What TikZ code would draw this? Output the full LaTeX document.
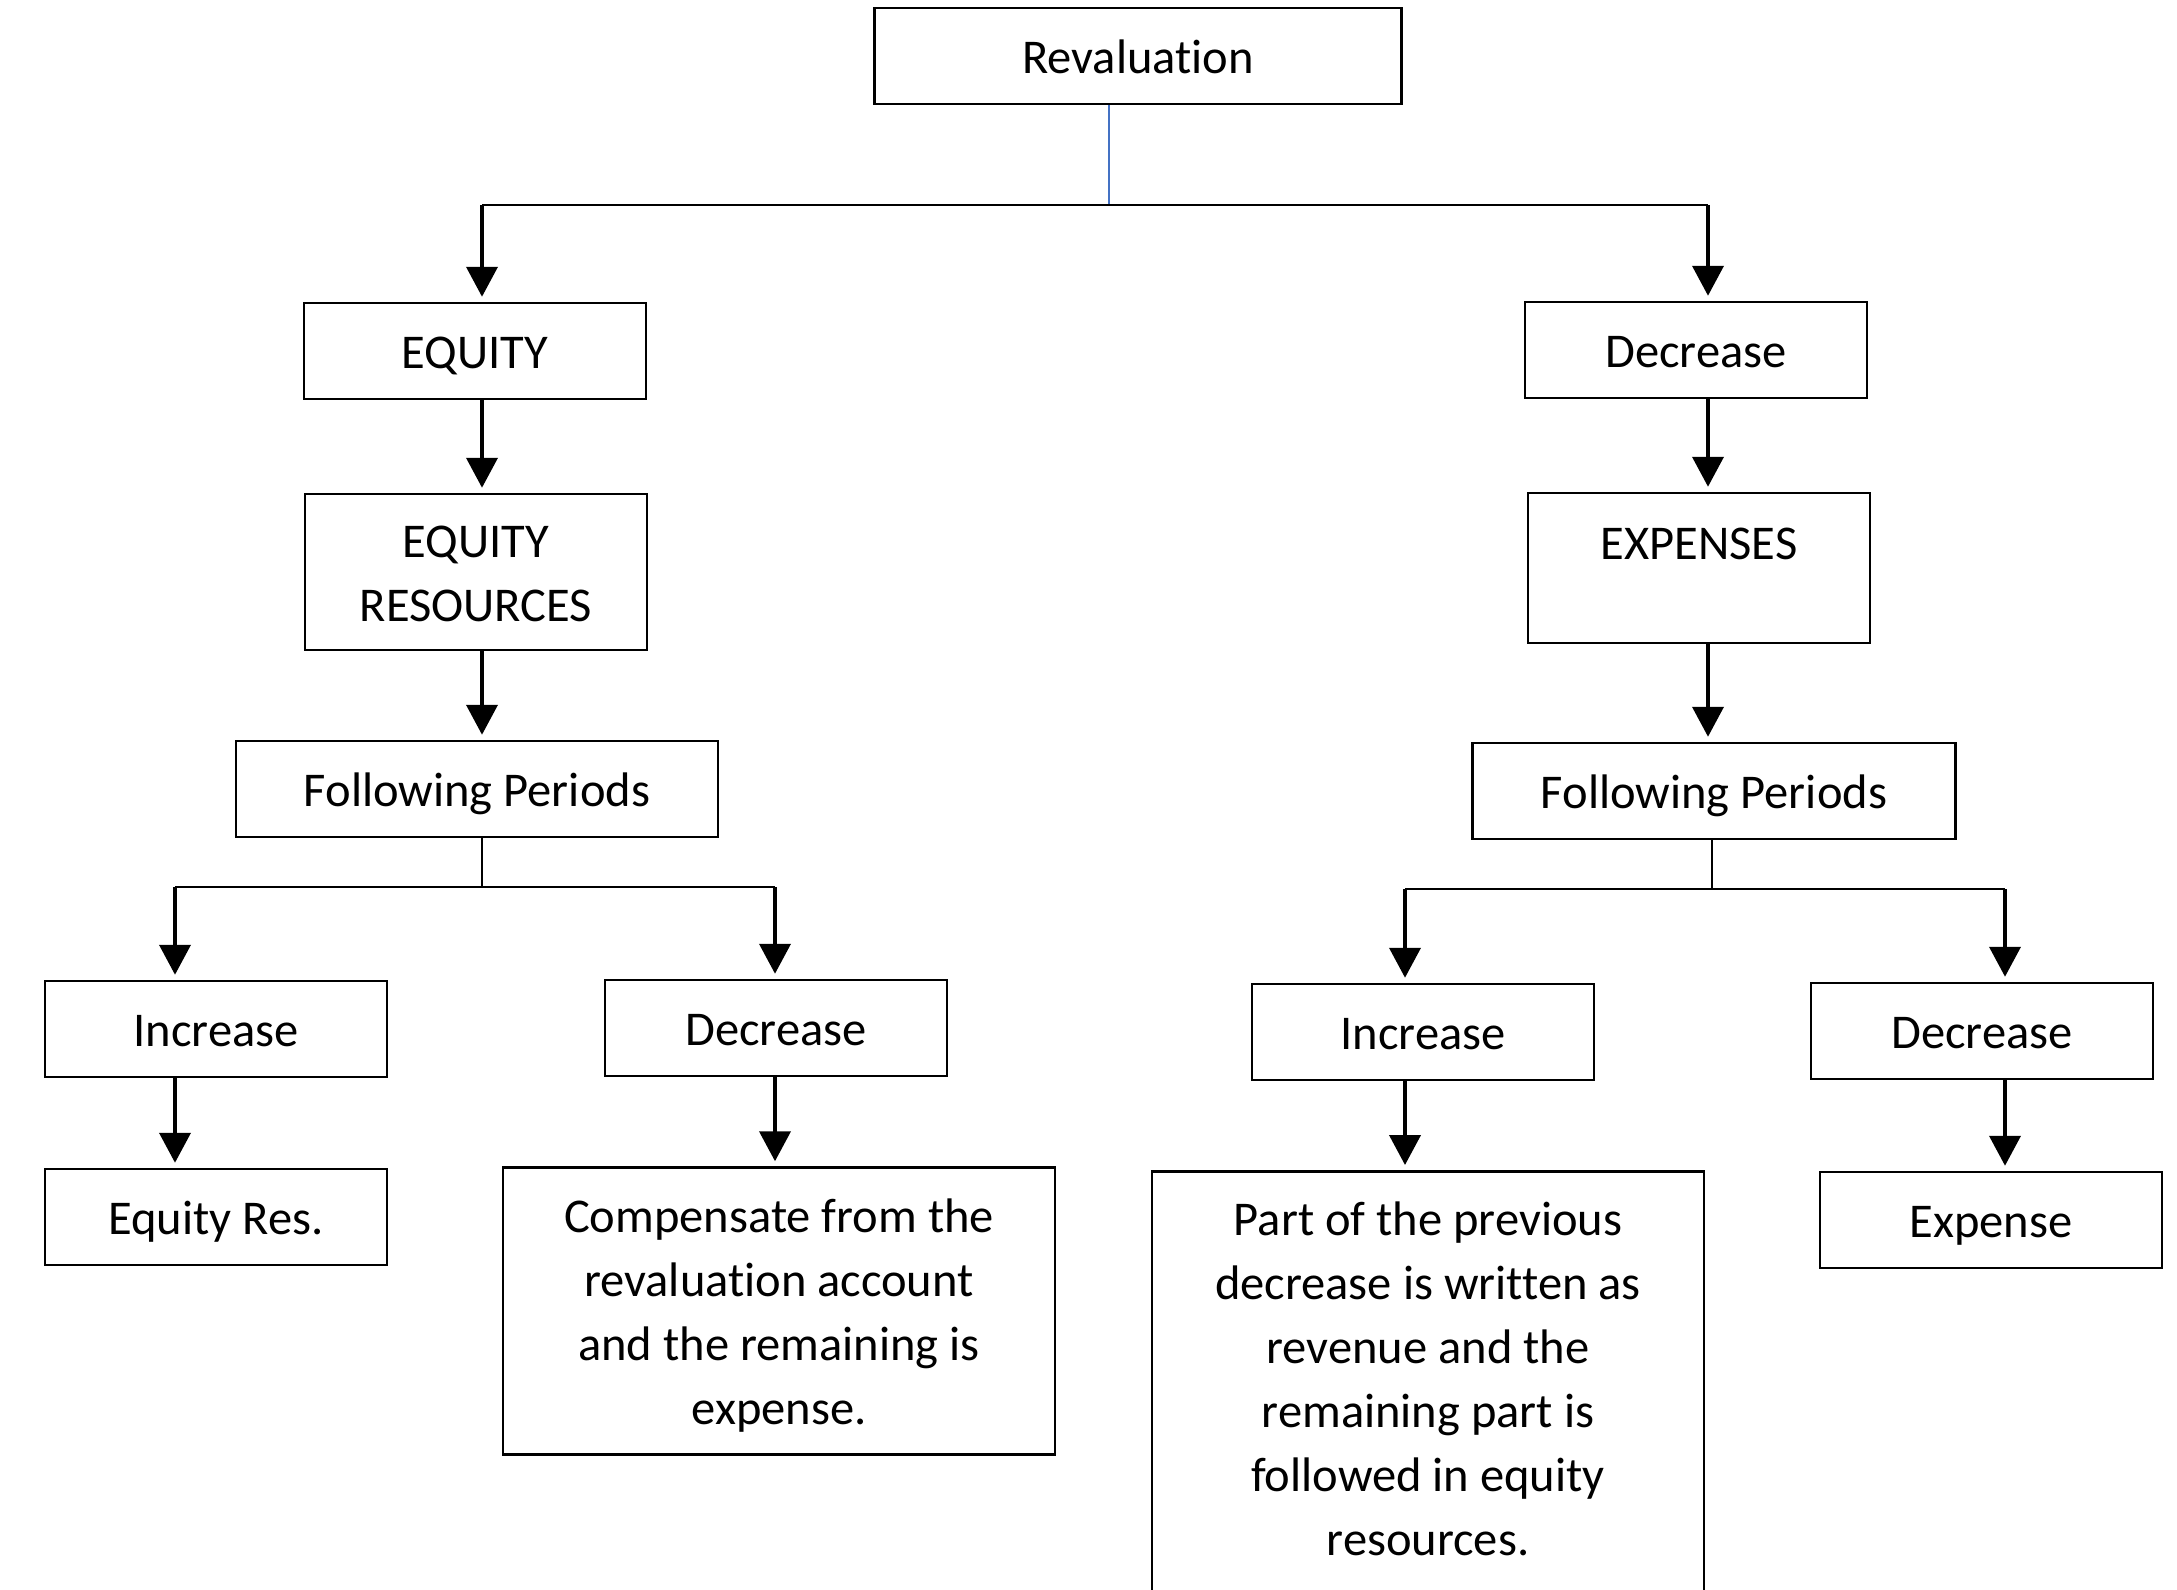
\documentclass[tikz,border=0pt]{standalone}
\usepackage{fontspec}
\setmainfont{Carlito}[Ligatures=NoCommon]
\usetikzlibrary{arrows.meta,positioning}

\definecolor{wordblue}{RGB}{68,114,196}
\newcommand{\boxstrut}{\rule[-15pt]{0pt}{64pt}}

\begin{document}
\begin{tikzpicture}[
    x=1pt, y=-1pt,
    box/.style={rectangle, draw=black, line width=2.5pt,
                minimum width=342pt, minimum height=96pt,
                align=center, font=\fontsize{48.5}{64}\selectfont},
    tallbox/.style={box, minimum width=552pt},
    flow/.style={-{Triangle[length=30pt,width=31pt]}, line width=4pt,
                 shorten >=5pt},
    link/.style={line width=2.5pt}
]
  \clip (0,0) rectangle (2177,1590);

  % Root
  \node[box, minimum width=527pt] (reval) at (1138,56) {\boxstrut Revaluation};

  % Left branch
  \node[box] (equity) at (475,351) {\boxstrut EQUITY};
  \node[box, minimum height=156pt] (eqres) at (476,572)
       {\boxstrut EQUITY\\RESOURCES\boxstrut};
  \node[box, minimum width=482pt] (fpl) at (477,789) {\boxstrut Following Periods};
  \node[box] (incl) at (216,1029) {\boxstrut Increase};
  \node[box] (decl) at (776,1028) {\boxstrut Decrease};
  \node[box] (eqresb) at (216,1217) {\boxstrut Equity Res.};
  \node[tallbox, minimum height=287pt] (comp) at (779,1311)
       {\boxstrut Compensate from the\\revaluation account\\and the remaining is\\expense.\boxstrut};

  % Right branch
  \node[box] (decr) at (1696,350) {\boxstrut Decrease};
  \node[box, minimum height=150pt] (expn) at (1699,568)
       {\boxstrut EXPENSES\\\rule[-3pt]{0pt}{10pt}};
  \node[box, minimum width=483pt] (fpr) at (1714,791) {\boxstrut Following Periods};
  \node[box] (incr) at (1423,1032) {\boxstrut Increase};
  \node[box] (decrb) at (1982,1031) {\boxstrut Decrease};
  \node[tallbox, anchor=north, inner ysep=15.5pt] (part) at (1428,1170)
       {\boxstrut Part of the previous\\decrease is written as\\revenue and the\\remaining part is\\followed in equity\\resources.\\\boxstrut};
  \node[box] (expense) at (1991,1220) {\boxstrut Expense};

  % Junction points
  \coordinate (top) at (1109,205);
  \coordinate (topl) at (482,205);
  \coordinate (topr) at (1708,205);
  \coordinate (midl) at (482,887);
  \coordinate (midla) at (175,887);
  \coordinate (midlb) at (775,887);
  \coordinate (midr) at (1712,889);
  \coordinate (midra) at (1405,889);
  \coordinate (midrb) at (2005,889);

  % Top split
  \draw[link, draw=wordblue] (reval.south -| top) -- (top);
  \draw[link] (topl) -- (topr);

  % Left arrows
  \draw[flow] (topl) -- (topl |- equity.north);
  \draw[flow] (equity.south -| topl) -- (eqres.north -| topl);
  \draw[flow] (eqres.south -| topl) -- (fpl.north -| topl);
  \draw[link] (fpl.south -| midl) -- (midl);
  \draw[link] (midla) -- (midlb);
  \draw[flow] (midla) -- (midla |- incl.north);
  \draw[flow] (midlb) -- (midlb |- decl.north);
  \draw[flow] (incl.south -| midla) -- (eqresb.north -| midla);
  \draw[flow] (decl.south -| midlb) -- (comp.north -| midlb);

  % Right arrows
  \draw[flow] (topr) -- (topr |- decr.north);
  \draw[flow] (decr.south -| topr) -- (expn.north -| topr);
  \draw[flow] (expn.south -| topr) -- (fpr.north -| topr);
  \draw[link] (fpr.south -| midr) -- (midr);
  \draw[link] (midra) -- (midrb);
  \draw[flow] (midra) -- (midra |- incr.north);
  \draw[flow] (midrb) -- (midrb |- decrb.north);
  \draw[flow] (incr.south -| midra) -- (part.north -| midra);
  \draw[flow] (decrb.south -| midrb) -- (expense.north -| midrb);

\end{tikzpicture}
\end{document}
